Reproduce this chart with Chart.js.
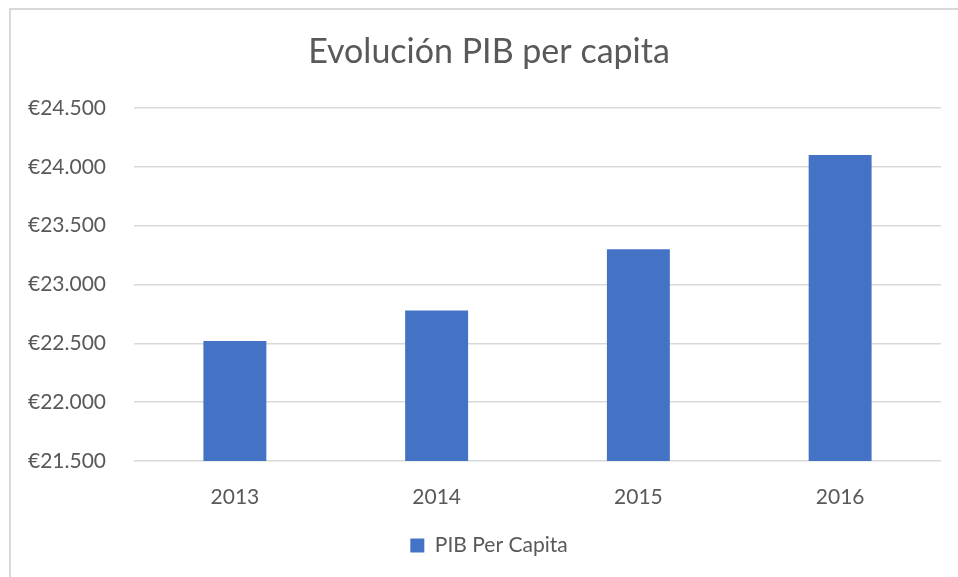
<!DOCTYPE html>
<html>
<head>
<meta charset="utf-8">
<script src="https://cdn.jsdelivr.net/npm/chart.js@4"></script>
<style>
  html, body { margin: 0; padding: 0; background: #ffffff; overflow: hidden; }
  #wrap { position: relative; width: 958px; height: 577px; }
  #frame { position: absolute; left: 9px; top: 8px; width: 1000px; height: 600px;
           border-top: 2px solid #d9d9d9; border-left: 2px solid #d9d9d9; }
  #chart { position: absolute; left: 0; top: 0; }
</style>
</head>
<body>
<div id="wrap">
  <div id="frame"></div>
  <canvas id="chart" width="958" height="577"></canvas>
</div>
<script>
const years = ["2013", "2014", "2015", "2016"];
const pibPerCapita = [22520, 22780, 23300, 24100];
const yTicks = [21500, 22000, 22500, 23000, 23500, 24000, 24500];

const textColor = "#595959";
const gridColor = "#d9d9d9";
const barColor = "#4472c4";
const fontFamily = "Lato, 'Open Sans', sans-serif";

Chart.defaults.color = textColor;
Chart.defaults.font.family = fontFamily;

function euro(v) {
	return "€" + String(v).replace(/\B(?=(\d{3})+(?!\d))/g, ".");
}

// the y labels stick out left of the axis box, so widen its clip area
const unclipLabels = {
	id: "unclipLabels",
	afterLayout: function (chart) {
		chart.scales.y.left = 0;
	},
};

const ctx = document.getElementById("chart").getContext("2d");

var chart = new Chart(ctx, {
	type: "bar",
	plugins: [unclipLabels],
	data: {
		labels: years,
		datasets: [
			{
				label: "PIB Per Capita",
				data: pibPerCapita,
				backgroundColor: barColor,
				borderWidth: 0,
				categoryPercentage: 1,
				barPercentage: 0.312,
			},
		],
	},
	options: {
		responsive: false,
		animation: false,
		layout: {
			padding: { left: 37, right: 17, top: 0, bottom: 11 },
		},
		plugins: {
			tooltip: { enabled: false },
			title: {
				display: true,
				text: "Evolución PIB per capita",
				color: textColor,
				font: { size: 34, weight: "normal" },
				padding: { top: 31.6, bottom: 35.6 },
			},
			legend: {
				position: "bottom",
				labels: {
					boxWidth: 14,
					boxHeight: 14,
					padding: 10,
					color: textColor,
					font: { size: 21 },
				},
			},
		},
		scales: {
			x: {
				grid: { display: false },
				border: { display: false },
				ticks: { padding: 16, font: { size: 21 } },
				afterFit: function (s) {
					s.height = 64;
				},
			},
			y: {
				min: 21500,
				max: 24500,
				border: { display: false },
				grid: { color: gridColor, lineWidth: 1.5, drawTicks: false },
				ticks: {
					padding: 28,
					font: { size: 21 },
					callback: function (v) {
						return euro(v);
					},
				},
				afterBuildTicks: function (s) {
					s.ticks = yTicks.map(function (v) {
						return { value: v };
					});
				},
				afterFit: function (s) {
					s.width = 134 - 37;
				},
			},
		},
	},
});
</script>
</body>
</html>
